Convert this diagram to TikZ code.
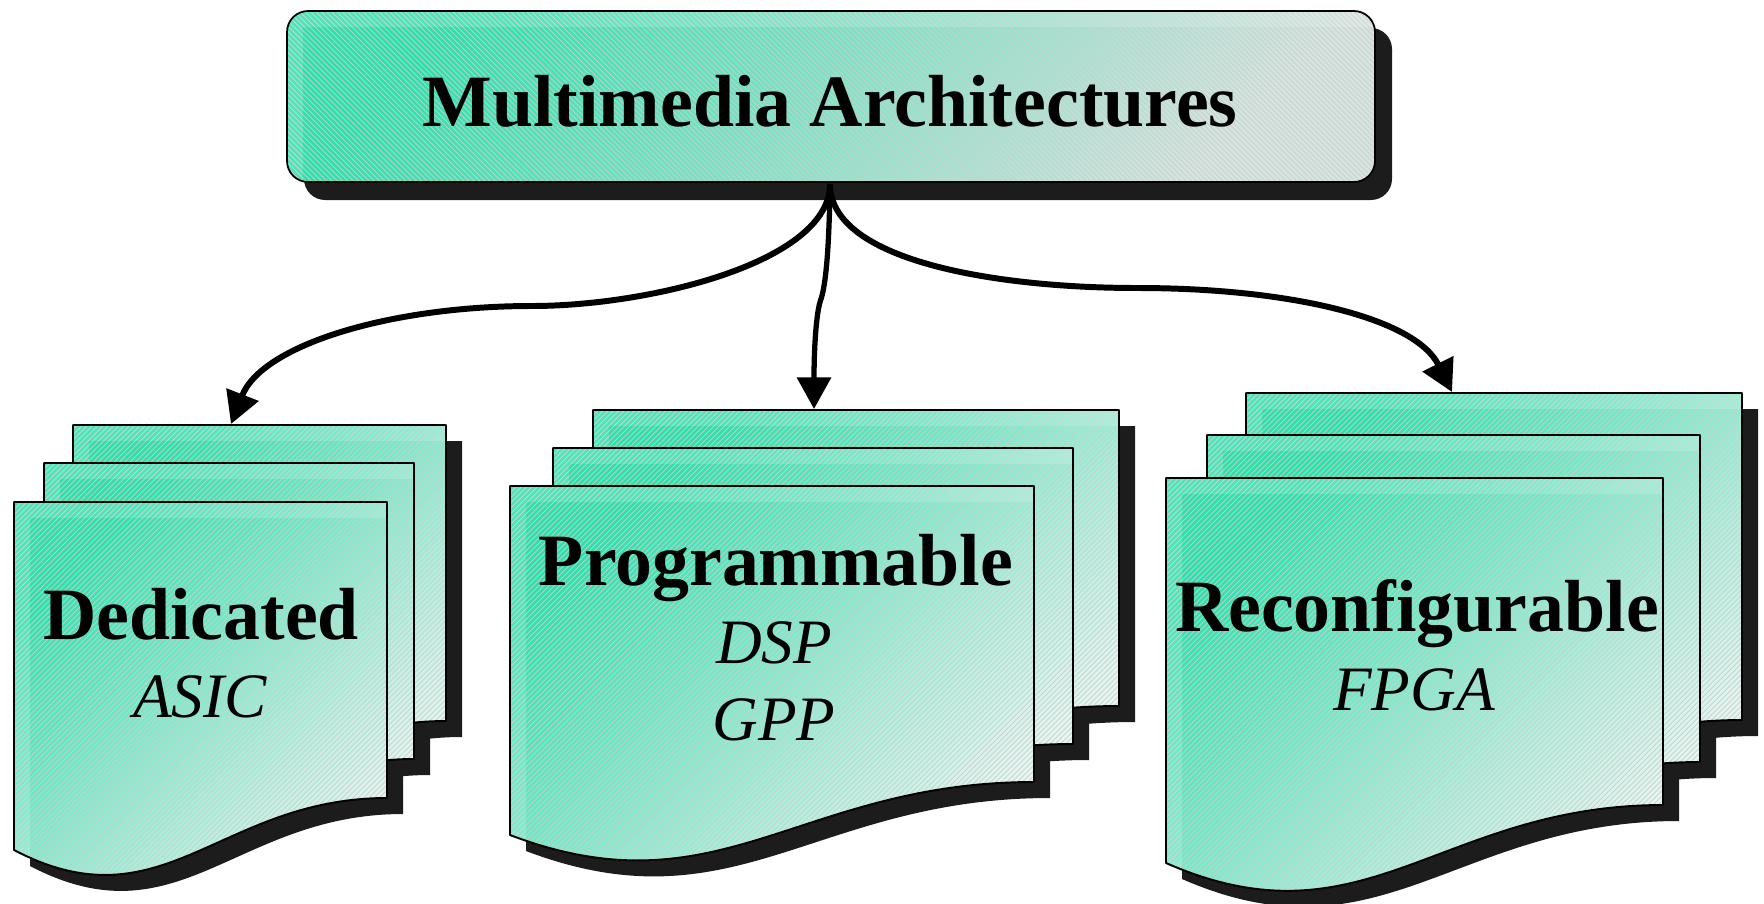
\documentclass[tikz,border=0pt]{standalone}
\usepackage{fontspec}
\setmainfont{Liberation Serif}
\usetikzlibrary{arrows.meta,patterns}
\definecolor{tealA}{RGB}{45,225,172}
\definecolor{paleA}{RGB}{232,246,242}
\definecolor{paleB}{RGB}{214,228,224}
\definecolor{shadowc}{RGB}{28,28,28}
\definecolor{hatchc}{RGB}{205,205,205}

% sheet outline: x y w hL hR
\newcommand\sheetpath[5]{(#1,#2) -- ++(#3,0) -- ++(0,#5) .. controls +(-0.45*#3,0) and +(0.4*#3,{1.5*(#4-#5)}) .. ++(-#3,#4-#5) -- cycle}
\newcommand\sheetshadow[5]{\fill[shadowc] \sheetpath{#1+16}{#2+16}{#3}{#4}{#5};}
\newcommand\sheet[5]{%
  \path[top color=tealA, bottom color=paleA, shading angle=45] \sheetpath{#1}{#2}{#3}{#4}{#5};
  \path[pattern=north east lines, pattern color=hatchc, fill opacity=.35] \sheetpath{#1}{#2}{#3}{#4}{#5};
  \begin{scope}
    \clip \sheetpath{#1}{#2}{#3}{#4}{#5};
    \fill[white, fill opacity=.16] (#1,#2) rectangle ++(#3,16);
    \fill[white, fill opacity=.16] (#1,#2+16) rectangle ++(16,#4);
  \end{scope}
  \draw[line width=1.1pt] \sheetpath{#1}{#2}{#3}{#4}{#5};}

\begin{document}
\begin{tikzpicture}[x=0.02cm, y=-0.02cm, line join=round,
  bigtext/.style={font=\fontsize{42}{48}\selectfont\bfseries, inner sep=0pt, anchor=base},
  smalltext/.style={font=\fontsize{36}{42}\selectfont\itshape, inner sep=0pt, anchor=base},
  conn/.style={line width=3.4pt, -{Triangle[length=18pt, width=19pt]}},
  rbox/.style={rounded corners=12pt}]
\useasboundingbox (0,0) rectangle (1764,903);

% ---- title box ----
\fill[shadowc, rbox] (304,28) rectangle (1392,200);
\path[rbox, top color=tealA, bottom color=paleB, shading angle=45] (287,11) rectangle (1375,182);
\path[rbox, pattern=north west lines, pattern color=hatchc, fill opacity=.35] (287,11) rectangle (1375,182);
\begin{scope}
  \clip[rbox] (287,11) rectangle (1375,182);
  \fill[white, fill opacity=.16] (287,11) rectangle (1375,27);
  \fill[white, fill opacity=.16] (287,27) rectangle (303,182);
\end{scope}
\draw[rbox, line width=1pt] (287,11) rectangle (1375,182);
\node[bigtext] (title) at (830,126) {Multimedia Architectures};

% ---- stack 1 : Dedicated ----
\sheetshadow{73}{425}{373}{348}{296}
\sheetshadow{44}{463}{370}{348}{296}
\sheetshadow{14}{502}{373}{348}{296}
\sheet{73}{425}{373}{348}{296}
\sheet{44}{463}{370}{348}{296}
\sheet{14}{502}{373}{348}{296}
\node[bigtext] (ded) at (201,639) {Dedicated};
\node[smalltext] (asic) at (200,717) {ASIC};

% ---- stack 2 : Programmable ----
\sheetshadow{593}{410}{526}{349}{296}
\sheetshadow{553}{448}{520}{349}{296}
\sheetshadow{510}{486}{524}{349}{296}
\sheet{593}{410}{526}{349}{296}
\sheet{553}{448}{520}{349}{296}
\sheet{510}{486}{524}{349}{296}
\node[bigtext] (prog) at (776,585) {Programmable};
\node[smalltext] (dsp) at (774,663) {DSP};
\node[smalltext] (gpp) at (774,740) {GPP};

% ---- stack 3 : Reconfigurable ----
\sheetshadow{1246}{393}{496}{385}{327}
\sheetshadow{1207}{435}{493}{385}{327}
\sheetshadow{1166}{478}{497}{385}{327}
\sheet{1246}{393}{496}{385}{327}
\sheet{1207}{435}{493}{385}{327}
\sheet{1166}{478}{497}{385}{327}
\node[bigtext] (reco) at (1417,631) {Reconfigurable};
\node[smalltext] (fpga) at (1414,710) {FPGA};

% ---- connectors ----
\coordinate (src) at (830,184);
\coordinate (tA) at (231,424);
\coordinate (tB) at (814,409);
\coordinate (tC) at (1452,392);
\draw[conn] (src) .. controls (830,262) and (650,306) .. (532,306)
  .. controls (390,306) and (262,345) .. (tA);
\draw[conn] (src) .. controls (830,262) and (1000,288) .. (1137,288)
  .. controls (1290,288) and (1415,318) .. (tC);
\draw[conn, line width=3pt] (src) .. controls (829,265) and (824,290) .. (821,299)
  .. controls (816,312) and (814,350) .. (tB);
\end{tikzpicture}
\end{document}
